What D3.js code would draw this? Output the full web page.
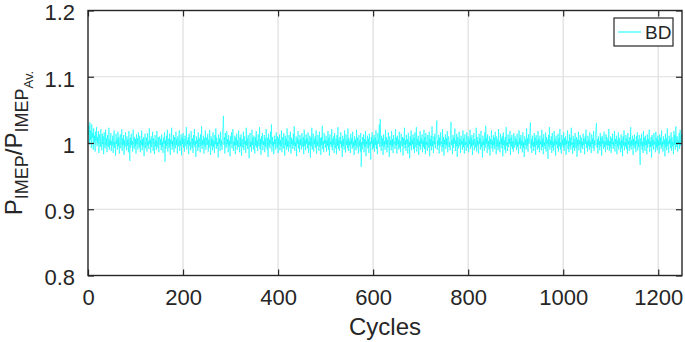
<!DOCTYPE html>
<html>
<head>
<meta charset="utf-8">
<script src="https://cdn.jsdelivr.net/npm/d3@7"></script>
<style>
    body { margin: 0; background: #fff; }
    svg { display: block; font-family: "Liberation Sans", Arial, sans-serif; }
</style>
</head>
<body>
<div id="chart"></div>
<script>
// P_IMEP / P_IMEP_Av. for each cycle (50 cycles per row)
const imepRatio = [
    1.012, 1.026, 0.998, 1.031, 1.004, 1.019, 0.993, 1.028, 1.008, 1.015, 0.990, 1.022, 1.001, 1.011, 0.987, 1.017, 1.003, 1.024, 0.995, 1.009, 1.000, 1.018, 0.985, 1.013, 1.006, 0.994, 1.021, 1.002, 0.989, 1.014, 0.998, 1.010, 0.983, 1.016, 1.004, 0.992, 1.020, 0.996, 1.007, 0.986, 1.012, 1.001, 0.994, 1.023, 0.990, 1.005, 0.997, 1.015, 0.988, 1.003,
    0.996, 1.011, 0.985, 1.008, 1.019, 0.993, 1.002, 0.981, 1.014, 0.999, 1.006, 0.990, 1.017, 0.995, 1.009, 0.984, 1.003, 1.013, 0.992, 1.000, 1.021, 0.988, 1.007, 0.997, 1.012, 0.982, 1.004, 0.994, 1.016, 1.001, 0.989, 1.010, 0.996, 1.005, 0.986, 1.018, 0.999, 0.973, 1.008, 0.993, 1.014, 0.997, 1.003, 0.987, 1.020, 1.002, 0.991, 1.009, 0.995, 1.006,
    0.984, 1.013, 0.998, 1.007, 0.990, 1.016, 1.001, 0.993, 1.011, 0.986, 1.004, 0.997, 1.019, 0.989, 1.006, 0.995, 1.009, 0.980, 1.002, 1.014, 0.992, 1.000, 1.008, 0.987, 1.015, 0.996, 1.003, 0.991, 1.022, 0.998, 1.005, 0.985, 1.010, 0.994, 1.001, 1.017, 0.988, 1.007, 0.999, 0.983, 1.012, 0.995, 1.004, 0.990, 1.018, 1.000, 0.993, 1.009, 0.986, 1.003,
    1.010, 0.997, 1.006, 0.989, 1.013, 0.994, 1.002, 0.985, 1.008, 0.999, 1.016, 0.972, 1.004, 0.991, 1.011, 0.996, 1.020, 0.987, 1.001, 1.007, 0.993, 1.014, 0.982, 1.005, 0.998, 1.023, 0.990, 1.003, 0.995, 1.012, 0.986, 1.009, 1.000, 0.992, 1.017, 0.997, 1.006, 0.984, 1.010, 0.995, 1.002, 1.019, 0.988, 1.004, 0.996, 1.013, 0.981, 1.008, 0.999, 1.015,
    0.993, 1.006, 0.987, 1.011, 1.001, 0.995, 1.024, 0.990, 1.004, 0.998, 1.009, 0.983, 1.014, 0.996, 1.002, 0.989, 1.018, 1.000, 0.992, 1.007, 0.985, 1.012, 0.997, 1.021, 0.994, 1.003, 0.979, 1.010, 0.999, 1.005, 0.988, 1.016, 0.993, 1.008, 1.001, 0.986, 1.013, 0.996, 1.025, 0.991, 1.004, 0.998, 1.011, 0.984, 1.007, 0.995, 1.019, 0.990, 1.002, 1.009,
    0.997, 1.014, 0.987, 1.005, 0.993, 1.020, 1.000, 0.982, 1.010, 0.996, 1.006, 0.989, 1.016, 0.994, 1.003, 0.985, 1.012, 0.998, 1.022, 0.991, 1.008, 0.995, 1.001, 0.978, 1.013, 0.999, 1.007, 0.988, 1.017, 0.996, 1.004, 0.990, 1.011, 1.026, 1.041, 0.997, 1.009, 0.984, 1.015, 1.002, 0.993, 1.018, 0.998, 1.006, 0.986, 1.012, 0.995, 1.003, 0.980, 1.010,
    0.999, 1.016, 0.992, 1.005, 1.021, 0.988, 1.002, 0.996, 1.011, 0.983, 1.008, 0.997, 1.014, 0.990, 1.004, 0.994, 1.019, 1.000, 0.986, 1.009, 0.995, 1.013, 0.981, 1.006, 1.001, 0.993, 1.017, 0.989, 1.010, 0.998, 1.003, 0.985, 1.023, 0.996, 1.007, 0.991, 1.012, 0.999, 0.977, 1.005, 1.015, 0.994, 1.002, 0.987, 1.020, 0.997, 1.008, 0.990, 1.011, 1.001,
    0.984, 1.009, 0.996, 1.018, 0.993, 1.004, 0.988, 1.013, 1.000, 0.995, 1.024, 0.991, 1.006, 0.982, 1.010, 0.998, 1.015, 0.989, 1.003, 0.997, 1.012, 0.986, 1.007, 0.994, 1.021, 1.001, 0.990, 1.008, 0.979, 1.014, 0.996, 1.005, 0.992, 1.017, 0.999, 1.028, 0.987, 1.009, 0.995, 1.002, 0.983, 1.011, 0.998, 1.006, 0.990, 1.016, 1.000, 0.993, 1.010, 0.985,
    1.007, 0.997, 1.013, 0.989, 1.004, 0.995, 1.019, 0.986, 1.002, 1.009, 0.992, 1.015, 0.999, 0.981, 1.011, 0.996, 1.006, 0.990, 1.022, 0.994, 1.003, 0.987, 1.012, 1.000, 0.993, 1.017, 0.984, 1.008, 0.998, 1.005, 0.991, 1.014, 0.996, 1.025, 0.988, 1.001, 0.995, 1.010, 0.980, 1.007, 0.999, 1.018, 0.992, 1.004, 0.986, 1.012, 0.997, 1.006, 0.990, 1.015,
    1.001, 0.994, 1.009, 0.983, 1.020, 0.996, 1.005, 0.989, 1.013, 0.999, 1.007, 0.992, 1.016, 0.985, 1.003, 0.997, 1.011, 0.978, 1.008, 0.995, 1.023, 0.990, 1.002, 1.014, 0.987, 1.006, 0.998, 1.010, 0.993, 1.019, 0.984, 1.004, 0.996, 1.012, 1.000, 0.988, 1.017, 0.994, 1.007, 0.982, 1.009, 0.997, 1.026, 0.991, 1.003, 0.986, 1.015, 0.999, 1.005, 0.993,
    1.011, 0.987, 1.004, 0.996, 1.018, 0.990, 1.008, 0.981, 1.013, 0.998, 1.002, 0.994, 1.021, 0.989, 1.006, 0.997, 1.010, 0.985, 1.015, 1.000, 0.992, 1.007, 0.983, 1.012, 0.996, 1.024, 0.991, 1.004, 0.988, 1.009, 0.999, 1.016, 0.993, 1.003, 0.979, 1.011, 0.995, 1.006, 0.990, 1.019, 1.001, 0.986, 1.013, 0.997, 1.005, 0.992, 1.022, 0.988, 1.008, 0.996,
    1.003, 0.985, 1.014, 0.998, 1.007, 0.991, 1.017, 0.994, 1.002, 0.982, 1.010, 0.996, 1.005, 0.989, 1.020, 0.993, 1.008, 0.999, 0.984, 1.012, 0.995, 1.004, 0.987, 1.015, 0.964, 1.001, 0.990, 1.009, 0.997, 1.013, 0.986, 1.006, 0.994, 1.018, 0.980, 1.003, 0.998, 1.011, 0.992, 1.007, 0.985, 1.014, 0.996, 1.002, 0.975, 1.009, 0.999, 1.016, 0.990, 1.005,
    0.993, 1.012, 0.987, 1.008, 0.997, 1.019, 0.991, 1.004, 0.983, 1.015, 0.999, 1.006, 1.028, 0.994, 1.036, 1.002, 0.988, 1.011, 0.996, 1.007, 0.982, 1.013, 0.995, 1.003, 0.990, 1.020, 0.998, 1.009, 0.986, 1.005, 0.993, 1.016, 1.000, 0.979, 1.010, 0.997, 1.004, 0.989, 1.018, 0.994, 1.006, 0.985, 1.012, 0.999, 1.002, 0.991, 1.021, 0.996, 1.008, 0.984,
    1.011, 0.998, 1.005, 0.990, 1.017, 0.993, 1.003, 0.986, 1.014, 1.000, 0.995, 1.009, 0.981, 1.007, 0.997, 1.023, 0.992, 1.004, 0.988, 1.012, 0.999, 1.006, 0.984, 1.015, 0.994, 1.002, 0.977, 1.010, 0.996, 1.019, 0.989, 1.005, 0.998, 1.013, 0.991, 1.008, 0.985, 1.016, 1.001, 0.993, 1.024, 0.987, 1.006, 0.997, 1.011, 0.982, 1.003, 0.995, 1.018, 0.990,
    1.007, 0.999, 1.013, 0.986, 1.004, 0.994, 1.020, 0.991, 1.009, 0.983, 1.015, 0.997, 1.002, 0.988, 1.012, 1.000, 0.993, 1.017, 0.980, 1.006, 0.996, 1.011, 0.989, 1.025, 0.995, 1.003, 0.985, 1.010, 0.998, 1.014, 0.992, 1.006, 1.019, 1.034, 0.990, 1.004, 0.997, 1.012, 0.984, 1.008, 0.995, 1.016, 0.999, 1.002, 0.987, 1.021, 0.993, 1.009, 0.981, 1.005,
    0.998, 1.013, 0.991, 1.007, 0.996, 1.018, 0.986, 1.003, 1.010, 0.994, 1.001, 0.989, 1.015, 1.032, 0.997, 1.005, 0.983, 1.012, 0.993, 1.008, 0.999, 1.022, 0.988, 1.004, 0.995, 1.014, 0.979, 1.009, 1.000, 0.992, 1.017, 0.996, 1.006, 0.985, 1.011, 0.998, 1.003, 0.990, 1.019, 0.994, 1.007, 0.984, 1.013, 0.997, 1.002, 0.988, 1.016, 1.001, 0.993, 1.010,
    0.986, 1.005, 0.998, 1.020, 0.991, 1.008, 0.995, 1.012, 0.982, 1.004, 0.997, 1.015, 0.989, 1.006, 1.000, 0.993, 1.023, 0.987, 1.009, 0.996, 1.003, 0.984, 1.014, 0.999, 1.007, 0.990, 1.018, 0.994, 1.002, 0.978, 1.011, 0.997, 1.005, 0.988, 1.016, 0.993, 1.026, 0.999, 1.008, 0.985, 1.013, 0.995, 1.003, 0.990, 1.010, 0.981, 1.006, 0.998, 1.019, 0.992,
    1.004, 0.987, 1.012, 0.996, 1.008, 0.991, 1.017, 1.000, 0.983, 1.010, 0.995, 1.005, 0.989, 1.021, 0.993, 1.002, 0.986, 1.014, 0.998, 1.007, 0.992, 1.011, 0.980, 1.016, 0.997, 1.004, 0.990, 1.009, 0.985, 1.024, 0.996, 1.001, 0.988, 1.013, 0.994, 1.006, 0.999, 1.018, 0.982, 1.008, 0.995, 1.012, 0.991, 1.003, 0.987, 1.015, 1.000, 0.993, 1.010, 0.997,
    1.006, 0.989, 1.014, 0.994, 1.002, 0.984, 1.019, 0.998, 1.008, 0.991, 1.012, 0.996, 1.004, 0.986, 1.016, 0.993, 1.001, 0.979, 1.010, 0.997, 1.005, 0.990, 1.022, 0.995, 1.007, 0.987, 1.013, 0.999, 1.003, 1.017, 1.031, 0.992, 1.006, 0.985, 1.011, 0.996, 1.002, 0.988, 1.015, 0.994, 1.008, 0.982, 1.012, 0.997, 1.004, 0.990, 1.018, 0.993, 1.006, 0.986,
    1.011, 0.998, 1.003, 0.989, 1.020, 0.994, 1.007, 0.983, 1.013, 0.996, 1.001, 0.991, 1.016, 0.987, 1.009, 0.999, 1.005, 0.976, 1.012, 0.995, 1.024, 0.990, 1.004, 0.997, 1.010, 0.985, 1.015, 0.993, 1.002, 0.988, 1.018, 0.996, 1.006, 0.981, 1.011, 0.998, 1.003, 0.992, 1.014, 0.987, 1.008, 0.995, 1.021, 0.990, 1.001, 0.984, 1.012, 0.997, 1.005, 0.993,
    1.016, 0.988, 1.007, 0.996, 1.010, 0.982, 1.004, 0.999, 1.019, 0.991, 1.003, 0.986, 1.013, 0.995, 1.008, 0.990, 1.023, 0.997, 1.001, 0.984, 1.011, 0.993, 1.006, 0.988, 1.015, 1.000, 0.992, 1.009, 0.979, 1.005, 0.996, 1.017, 0.989, 1.004, 0.998, 1.012, 0.985, 1.008, 0.994, 1.002, 0.991, 1.014, 0.997, 1.006, 0.983, 1.010, 0.999, 1.020, 0.993, 1.003,
    0.987, 1.011, 0.996, 1.005, 0.990, 1.016, 0.994, 1.002, 0.985, 1.013, 0.998, 1.007, 0.992, 1.018, 0.988, 1.004, 0.996, 1.012, 1.022, 1.030, 0.993, 1.006, 0.984, 1.010, 0.997, 1.003, 0.989, 1.015, 0.995, 1.008, 0.981, 1.011, 0.999, 1.004, 0.991, 1.017, 0.994, 1.002, 0.986, 1.013, 0.997, 1.009, 0.990, 1.005, 0.996, 1.021, 0.988, 1.003, 0.993, 1.010,
    0.985, 1.007, 0.998, 1.014, 0.991, 1.002, 0.995, 1.018, 0.987, 1.006, 0.999, 1.011, 0.983, 1.004, 0.994, 1.016, 0.990, 1.008, 0.997, 1.003, 0.986, 1.013, 0.992, 1.005, 0.980, 1.010, 0.996, 1.019, 0.989, 1.001, 0.995, 1.012, 0.991, 1.007, 0.984, 1.015, 0.998, 1.003, 0.988, 1.009, 0.994, 1.024, 0.990, 1.004, 0.997, 1.011, 0.982, 1.006, 0.995, 1.013,
    0.992, 1.003, 0.986, 1.010, 0.998, 1.016, 0.989, 1.005, 0.994, 1.012, 0.981, 0.967, 1.007, 0.996, 1.014, 0.990, 1.002, 0.985, 1.018, 0.995, 1.008, 0.988, 1.011, 0.997, 1.004, 0.983, 1.013, 0.993, 1.006, 0.999, 1.020, 0.987, 1.003, 0.994, 1.009, 0.978, 1.012, 0.996, 1.005, 0.990, 1.015, 0.998, 1.002, 0.986, 1.017, 0.993, 1.007, 0.989, 1.011, 0.996,
    1.004, 0.984, 1.013, 0.997, 1.008, 0.991, 1.019, 0.995, 1.002, 0.987, 1.010, 0.998, 1.005, 0.980, 1.014, 0.993, 1.007, 0.989, 1.022, 0.996, 1.003, 0.985, 1.011, 0.999, 1.006, 0.992, 1.016, 0.988, 1.009, 0.995, 1.002, 0.983, 1.018, 0.997, 1.012, 0.990, 1.025, 1.006, 0.994, 1.010, 0.987, 1.004, 0.998, 1.015, 0.991, 1.020, 0.996, 1.008, 1.014, 1.001
];
const cycles = imepRatio.map(function (v, i) { return i + 1; });

const xTicks = [0, 200, 400, 600, 800, 1000, 1200];
const yTicks = [0.8, 0.9, 1.0, 1.1, 1.2];
const seriesName = 'BD';

const width = 685, height = 342;
const plotLeft = 88, plotRight = 682, plotTop = 10.5, plotBottom = 275.5;
const axisColor = '#262626';

const svg = d3.select('#chart').append('svg')
    .attr('width', width)
    .attr('height', height);

const xScale = d3.scaleLinear().domain([0, 1250]).range([plotLeft, plotRight]);
const yScale = d3.scaleLinear().domain([0.8, 1.2]).range([plotBottom, plotTop]);

// grid
svg.append('g').selectAll('line')
    .data(xTicks.slice(1))
    .enter().append('line')
    .attr('x1', function (d) { return xScale(d); })
    .attr('x2', function (d) { return xScale(d); })
    .attr('y1', plotTop).attr('y2', plotBottom)
    .attr('stroke', '#dedede').attr('stroke-width', 1.2);

svg.append('g').selectAll('line')
    .data(yTicks.slice(1, -1))
    .enter().append('line')
    .attr('y1', function (d) { return yScale(d); })
    .attr('y2', function (d) { return yScale(d); })
    .attr('x1', plotLeft).attr('x2', plotRight)
    .attr('stroke', '#dedede').attr('stroke-width', 1.2);

// the data line
const line = d3.line()
    .x(function (d, i) { return xScale(cycles[i]); })
    .y(function (d) { return yScale(d); });

svg.append('path')
    .datum(imepRatio)
    .attr('fill', 'none')
    .attr('stroke', '#00ffff')
    .attr('stroke-width', 0.6)
    .attr('d', line);

// axes, ticks point inward like matlab
function styleAxis(g) {
    g.select('.domain').remove();
    g.selectAll('.tick line').attr('stroke', axisColor).attr('stroke-width', 1.2);
    g.selectAll('.tick text')
        .attr('fill', axisColor)
        .style('font-size', '22px');
}

svg.append('g')
    .attr('transform', `translate(0, ${plotBottom})`)
    .call(d3.axisBottom(xScale).tickValues(xTicks).tickSize(-6).tickPadding(14).tickFormat(d3.format('d')))
    .call(styleAxis);

svg.append('g')
    .attr('transform', `translate(0, ${plotTop})`)
    .call(d3.axisTop(xScale).tickValues(xTicks).tickSize(-6).tickFormat(''))
    .call(styleAxis);

svg.append('g')
    .attr('transform', `translate(${plotLeft}, 0)`)
    .call(d3.axisLeft(yScale).tickValues(yTicks).tickSize(-6).tickPadding(13).tickFormat(d3.format('~g')))
    .call(styleAxis)
    .call(function (g) { g.selectAll('.tick text').attr('dy', '0.43em'); });

svg.append('g')
    .attr('transform', `translate(${plotRight}, 0)`)
    .call(d3.axisRight(yScale).tickValues(yTicks).tickSize(-6).tickFormat(''))
    .call(styleAxis);

svg.append('rect')
    .attr('x', plotLeft).attr('y', plotTop)
    .attr('width', plotRight - plotLeft).attr('height', plotBottom - plotTop)
    .attr('fill', 'none')
    .attr('stroke', axisColor)
    .attr('stroke-width', 1.4);

// axis labels
svg.append('text')
    .attr('x', (plotLeft + plotRight) / 2)
    .attr('y', 335)
    .attr('text-anchor', 'middle')
    .attr('fill', axisColor)
    .style('font-size', '24px')
    .text('Cycles');

const yLabel = svg.append('text')
    .attr('transform', `translate(22, ${(plotTop + plotBottom) / 2}) rotate(-90)`)
    .attr('text-anchor', 'middle')
    .attr('fill', axisColor)
    .style('font-size', '24px');
yLabel.append('tspan').text('P');
yLabel.append('tspan').attr('dy', 6).style('font-size', '18px').text('IMEP');
yLabel.append('tspan').attr('dy', -6).text('/P');
yLabel.append('tspan').attr('dy', 6).style('font-size', '18px').text('IMEP');
yLabel.append('tspan').attr('dy', 5).style('font-size', '13px').text('Av.');

// legend
const legend = svg.append('g').attr('transform', 'translate(614, 18)');
legend.append('rect')
    .attr('width', 59).attr('height', 28)
    .attr('fill', '#fff')
    .attr('stroke', axisColor)
    .attr('stroke-width', 1.2);
legend.append('line')
    .attr('x1', 4).attr('x2', 27)
    .attr('y1', 14).attr('y2', 14)
    .attr('stroke', '#00ffff').attr('stroke-width', 1);
legend.append('text')
    .attr('x', 31).attr('y', 21)
    .attr('fill', axisColor)
    .style('font-size', '19px')
    .text(seriesName);
</script>
</body>
</html>
